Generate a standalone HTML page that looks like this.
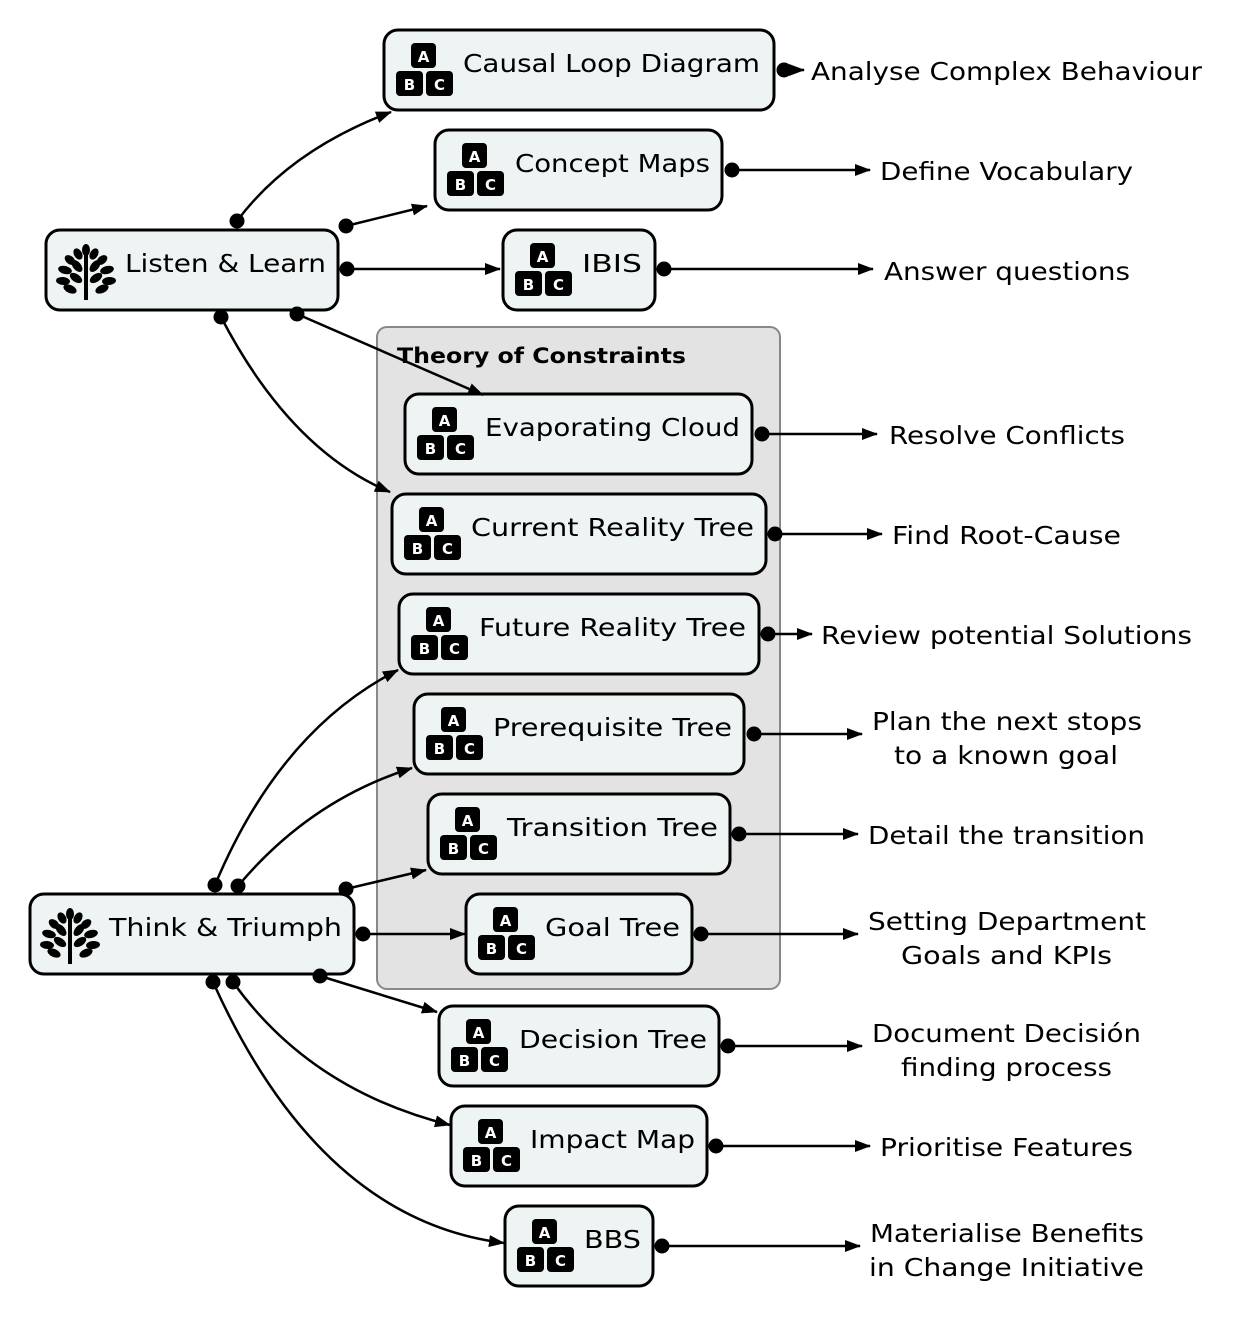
<!DOCTYPE html>
<html><head><meta charset="utf-8"><style>
html,body{margin:0;padding:0;background:#fff}
svg{display:block}
text{font-family:"DejaVu Sans","Liberation Sans",sans-serif;fill:#000}
</style></head><body>
<svg width="1240" height="1317" viewBox="0 0 1240 1317" xmlns="http://www.w3.org/2000/svg">
<defs>
<marker id="ar" markerWidth="16" markerHeight="12" refX="15" refY="6" orient="auto" markerUnits="userSpaceOnUse"><path d="M0,0 L16,6 L0,12 z" fill="#000"/></marker>
<g id="abc">
<rect x="27" y="13" width="25" height="25" rx="4" fill="#000"/>
<rect x="12" y="41" width="27" height="25" rx="4" fill="#000"/>
<rect x="42" y="41" width="27" height="25" rx="4" fill="#000"/>
<text x="39.5" y="32" font-size="15" font-weight="bold" text-anchor="middle" style="fill:#fff">A</text>
<text x="25.5" y="60" font-size="15" font-weight="bold" text-anchor="middle" style="fill:#fff">B</text>
<text x="55.5" y="60" font-size="15" font-weight="bold" text-anchor="middle" style="fill:#fff">C</text>
</g>
<g id="tree">
<rect x="28" y="12" width="4" height="48" fill="#000"/>
<g fill="#000">
<ellipse cx="30" cy="10" rx="4" ry="6"/>
<ellipse cx="22" cy="14" rx="4" ry="6" transform="rotate(-30 22 14)"/>
<ellipse cx="38" cy="14" rx="4" ry="6" transform="rotate(30 38 14)"/>
<ellipse cx="14" cy="20" rx="4" ry="6" transform="rotate(-50 14 20)"/>
<ellipse cx="46" cy="20" rx="4" ry="6" transform="rotate(50 46 20)"/>
<ellipse cx="21" cy="26" rx="4" ry="7" transform="rotate(-40 21 26)"/>
<ellipse cx="39" cy="26" rx="4" ry="7" transform="rotate(40 39 26)"/>
<ellipse cx="9" cy="30" rx="4" ry="7" transform="rotate(-75 9 30)"/>
<ellipse cx="51" cy="30" rx="4" ry="7" transform="rotate(75 51 30)"/>
<ellipse cx="20" cy="38" rx="4" ry="7" transform="rotate(-55 20 38)"/>
<ellipse cx="40" cy="38" rx="4" ry="7" transform="rotate(55 40 38)"/>
<ellipse cx="7" cy="41" rx="4" ry="7" transform="rotate(-85 7 41)"/>
<ellipse cx="53" cy="41" rx="4" ry="7" transform="rotate(85 53 41)"/>
<ellipse cx="14" cy="49" rx="4" ry="7" transform="rotate(-65 14 49)"/>
<ellipse cx="46" cy="49" rx="4" ry="7" transform="rotate(65 46 49)"/>
</g>
</g>
</defs>

<rect x="377" y="327" width="403" height="662" rx="10" fill="#e3e3e3" stroke="#888" stroke-width="2"/>
<text x="397" y="363" font-size="21" font-weight="bold" textLength="289" lengthAdjust="spacingAndGlyphs">Theory of Constraints</text>

<g stroke="#000" stroke-width="3" fill="#eef3f4">
<rect x="384" y="30" width="390" height="80" rx="14"/>
<rect x="435" y="130" width="287" height="80" rx="14"/>
<rect x="503" y="230" width="152" height="80" rx="14"/>
<rect x="46" y="230" width="292" height="80" rx="14"/>
<rect x="405" y="394" width="347" height="80" rx="14"/>
<rect x="392" y="494" width="374" height="80" rx="14"/>
<rect x="399" y="594" width="360" height="80" rx="14"/>
<rect x="414" y="694" width="330" height="80" rx="14"/>
<rect x="428" y="794" width="302" height="80" rx="14"/>
<rect x="466" y="894" width="226" height="80" rx="14"/>
<rect x="30" y="894" width="324" height="80" rx="14"/>
<rect x="439" y="1006" width="280" height="80" rx="14"/>
<rect x="451" y="1106" width="256" height="80" rx="14"/>
<rect x="505" y="1206" width="148" height="80" rx="14"/>
</g>

<use href="#abc" x="384" y="30"/>
<use href="#abc" x="435" y="130"/>
<use href="#abc" x="503" y="230"/>
<use href="#abc" x="405" y="394"/>
<use href="#abc" x="392" y="494"/>
<use href="#abc" x="399" y="594"/>
<use href="#abc" x="414" y="694"/>
<use href="#abc" x="428" y="794"/>
<use href="#abc" x="466" y="894"/>
<use href="#abc" x="439" y="1006"/>
<use href="#abc" x="451" y="1106"/>
<use href="#abc" x="505" y="1206"/>
<use href="#tree" x="56" y="240"/>
<use href="#tree" x="40" y="904"/>

<g font-size="25">
<text x="463" y="72" textLength="297" lengthAdjust="spacingAndGlyphs">Causal Loop Diagram</text>
<text x="515" y="172" textLength="195" lengthAdjust="spacingAndGlyphs">Concept Maps</text>
<text x="582" y="272" textLength="60" lengthAdjust="spacingAndGlyphs">IBIS</text>
<text x="125" y="272" textLength="201" lengthAdjust="spacingAndGlyphs">Listen &amp; Learn</text>
<text x="485" y="436" textLength="255" lengthAdjust="spacingAndGlyphs">Evaporating Cloud</text>
<text x="471" y="536" textLength="283" lengthAdjust="spacingAndGlyphs">Current Reality Tree</text>
<text x="479" y="636" textLength="267" lengthAdjust="spacingAndGlyphs">Future Reality Tree</text>
<text x="493" y="736" textLength="239" lengthAdjust="spacingAndGlyphs">Prerequisite Tree</text>
<text x="507" y="836" textLength="211" lengthAdjust="spacingAndGlyphs">Transition Tree</text>
<text x="545" y="936" textLength="135" lengthAdjust="spacingAndGlyphs">Goal Tree</text>
<text x="109" y="936" textLength="233" lengthAdjust="spacingAndGlyphs">Think &amp; Triumph</text>
<text x="519" y="1048" textLength="188" lengthAdjust="spacingAndGlyphs">Decision Tree</text>
<text x="530" y="1148" textLength="165" lengthAdjust="spacingAndGlyphs">Impact Map</text>
<text x="584" y="1248" textLength="57" lengthAdjust="spacingAndGlyphs">BBS</text>
</g>

<g font-size="25">
<text x="811" y="80" textLength="391" lengthAdjust="spacingAndGlyphs">Analyse Complex Behaviour</text>
<text x="880" y="180" textLength="253" lengthAdjust="spacingAndGlyphs">Define Vocabulary</text>
<text x="884" y="280" textLength="246" lengthAdjust="spacingAndGlyphs">Answer questions</text>
<text x="889" y="444" textLength="236" lengthAdjust="spacingAndGlyphs">Resolve Conflicts</text>
<text x="892" y="544" textLength="229" lengthAdjust="spacingAndGlyphs">Find Root-Cause</text>
<text x="821" y="644" textLength="371" lengthAdjust="spacingAndGlyphs">Review potential Solutions</text>
<text x="868" y="844" textLength="277" lengthAdjust="spacingAndGlyphs">Detail the transition</text>
<text x="880" y="1156" textLength="253" lengthAdjust="spacingAndGlyphs">Prioritise Features</text>
<text x="872" y="730" textLength="270" lengthAdjust="spacingAndGlyphs">Plan the next stops</text>
<text x="894" y="764" textLength="224" lengthAdjust="spacingAndGlyphs">to a known goal</text>
<text x="868" y="930" textLength="278" lengthAdjust="spacingAndGlyphs">Setting Department</text>
<text x="901" y="964" textLength="211" lengthAdjust="spacingAndGlyphs">Goals and KPIs</text>
<text x="872" y="1042" textLength="269" lengthAdjust="spacingAndGlyphs">Document Decisión</text>
<text x="901" y="1076" textLength="211" lengthAdjust="spacingAndGlyphs">finding process</text>
<text x="870" y="1242" textLength="274" lengthAdjust="spacingAndGlyphs">Materialise Benefits</text>
<text x="869" y="1276" textLength="275" lengthAdjust="spacingAndGlyphs">in Change Initiative</text>
</g>

<g stroke="#000" stroke-width="2.5" fill="none" marker-end="url(#ar)">
<path d="M784,70 L804,70"/>
<path d="M732,170 L870,170"/>
<path d="M664,269 L873,269"/>
<path d="M762,434 L877,434"/>
<path d="M775,534 L882,534"/>
<path d="M768,634 L812,634"/>
<path d="M754,734 L862,734"/>
<path d="M739,834 L858,834"/>
<path d="M701,934 L858,934"/>
<path d="M728,1046 L862,1046"/>
<path d="M716,1146 L870,1146"/>
<path d="M662,1246 L860,1246"/>

<path d="M237,221 Q290,150 391,112"/>
<path d="M346,226 L427,206"/>
<path d="M347,269 L500,269"/>
<path d="M297,314 L483,395"/>
<path d="M221,317 Q290,450 390,492"/>
<path d="M215,885 Q280,730 398,670"/>
<path d="M238,886 Q310,800 412,768"/>
<path d="M346,889 L426,870"/>
<path d="M363,934 L465,934"/>
<path d="M320,976 L437,1012"/>
<path d="M233,982 Q310,1090 450,1125"/>
<path d="M213,982 Q320,1220 504,1243"/>
</g>
<g fill="#000">
<circle cx="784" cy="70" r="7.5"/><circle cx="732" cy="170" r="7.5"/><circle cx="664" cy="269" r="7.5"/>
<circle cx="762" cy="434" r="7.5"/><circle cx="775" cy="534" r="7.5"/><circle cx="768" cy="634" r="7.5"/>
<circle cx="754" cy="734" r="7.5"/><circle cx="739" cy="834" r="7.5"/><circle cx="701" cy="934" r="7.5"/>
<circle cx="728" cy="1046" r="7.5"/><circle cx="716" cy="1146" r="7.5"/><circle cx="662" cy="1246" r="7.5"/>
<circle cx="237" cy="221" r="7.5"/><circle cx="346" cy="226" r="7.5"/><circle cx="347" cy="269" r="7.5"/>
<circle cx="297" cy="314" r="7.5"/><circle cx="221" cy="317" r="7.5"/>
<circle cx="215" cy="885" r="7.5"/><circle cx="238" cy="886" r="7.5"/><circle cx="346" cy="889" r="7.5"/>
<circle cx="363" cy="934" r="7.5"/><circle cx="320" cy="976" r="7.5"/><circle cx="233" cy="982" r="7.5"/>
<circle cx="213" cy="982" r="7.5"/>
</g>
</svg>
</body></html>
